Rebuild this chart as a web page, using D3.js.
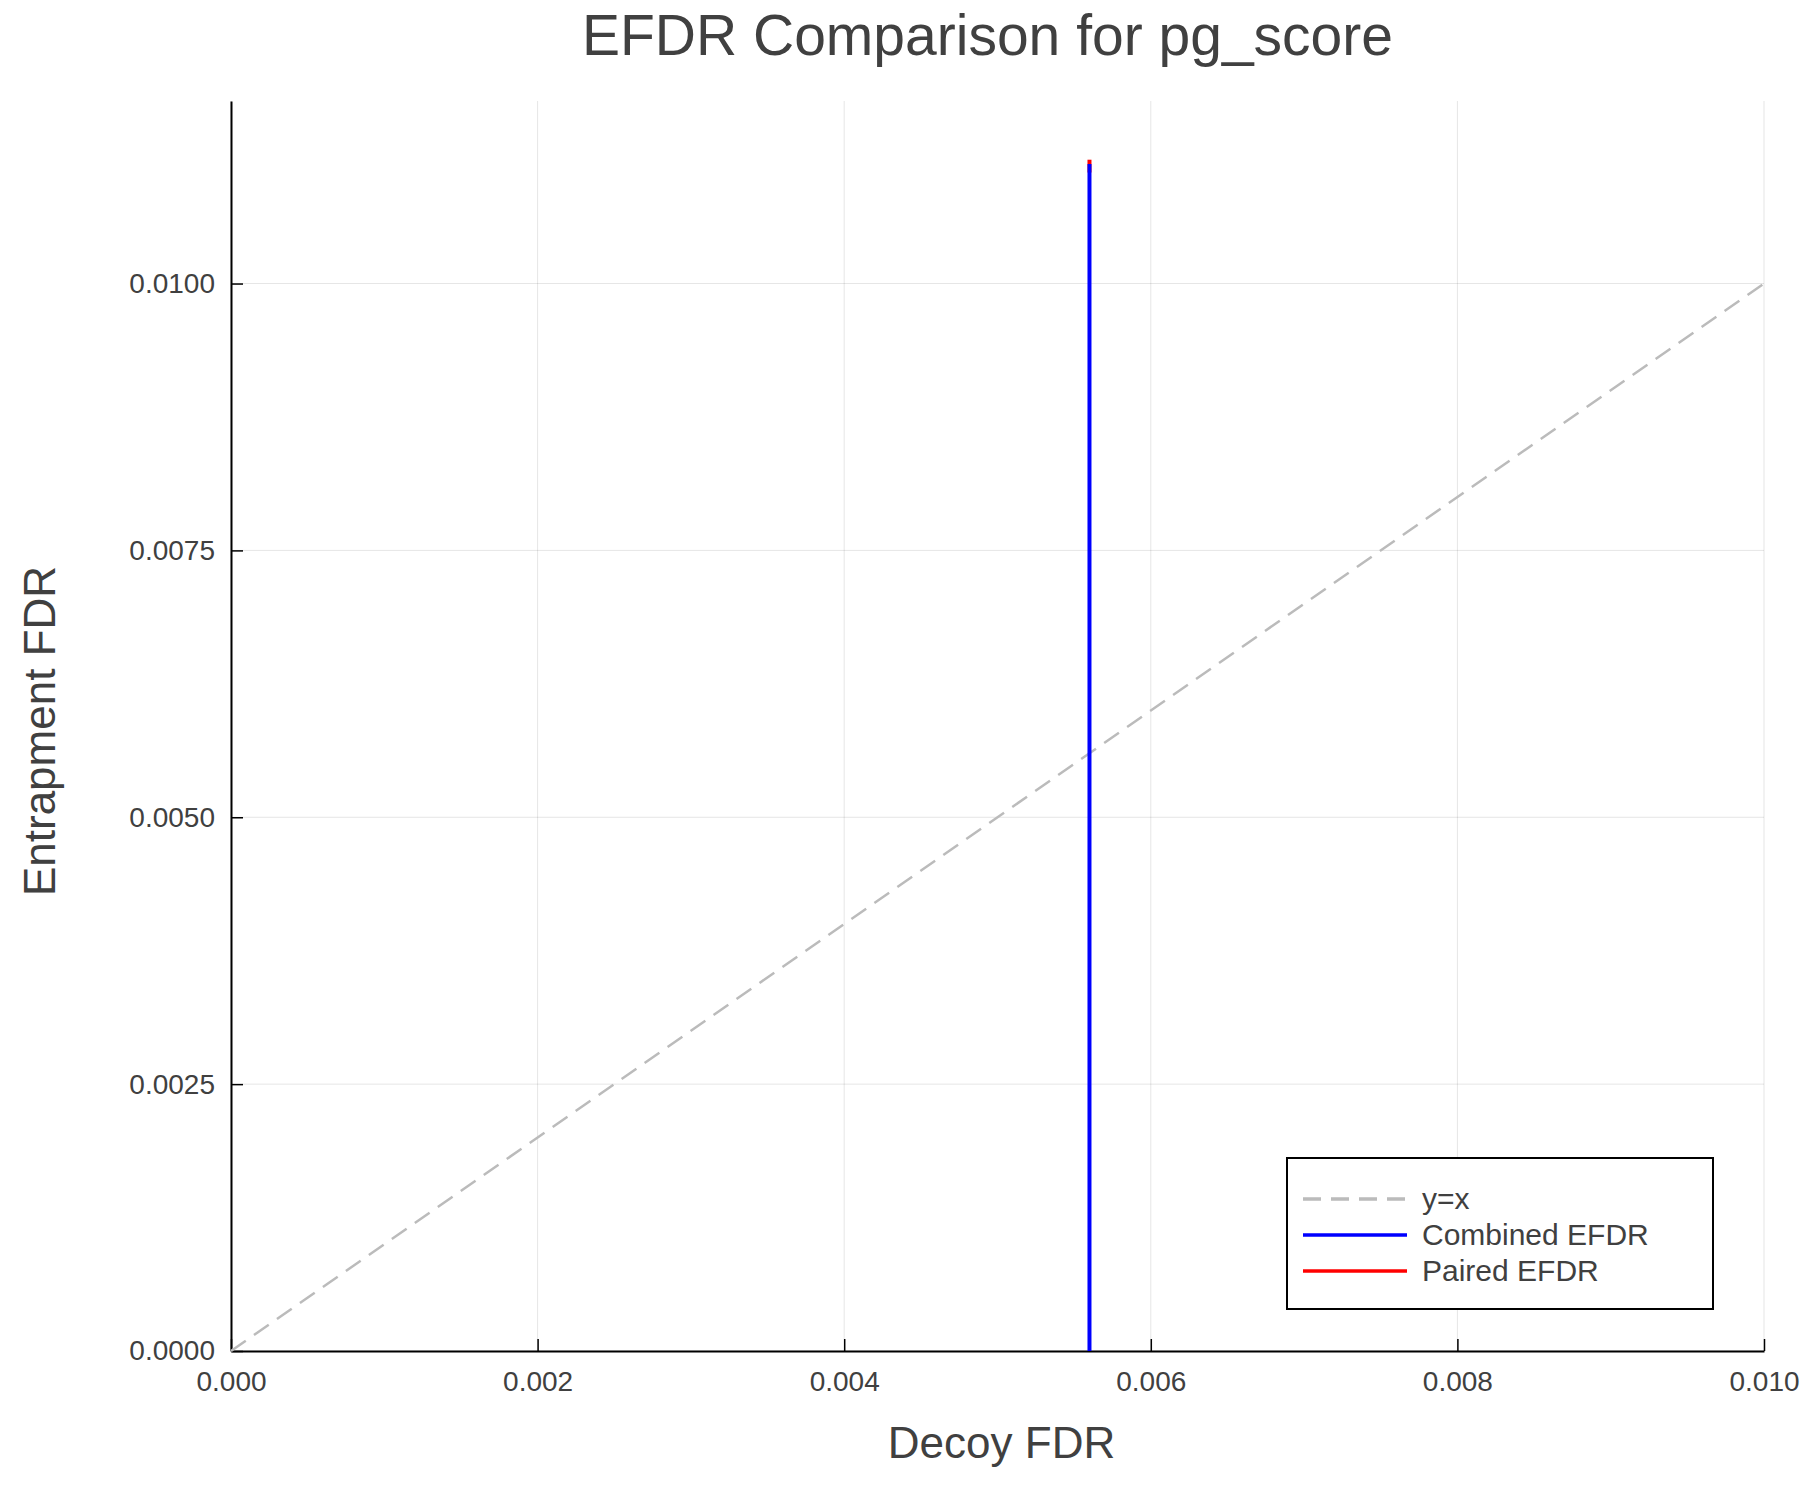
<!DOCTYPE html>
<html><head><meta charset="utf-8">
<script src="https://cdn.jsdelivr.net/npm/d3@7"></script>
<style>body{margin:0;background:#fff}text{font-family:"Liberation Sans",Arial,sans-serif;fill:#404040}</style>
</head><body><svg id="c" width="1800" height="1500"></svg>
<script>
const refX = [0, 0.01];
const refY = [0, 0.01];
const combinedX = [0.0056, 0.0056, 0.0056];
const combinedY = [0, 0.0055, 0.01112];
const pairedX = [0.0056, 0.0056];
const pairedY = [0.01104, 0.01116];
const xTicks = [0, 0.002, 0.004, 0.006, 0.008, 0.010];
const yTicks = [0, 0.0025, 0.005, 0.0075, 0.01];
const legendNames = ["y=x", "Combined EFDR", "Paired EFDR"];

const svg = d3.select("#c");
const L = 231, R = 1764, T = 101, B = 1351;
const x = d3.scaleLinear().domain([0, 0.01]).range([L, R]);
const y = d3.scaleLinear().domain([0, 0.01171]).range([B, T]);

// grid
svg.append("g").selectAll("line").data(xTicks).join("line")
  .attr("x1", d => x(d)).attr("x2", d => x(d)).attr("y1", T).attr("y2", B)
  .attr("stroke", "#000").attr("stroke-opacity", 0.1).attr("stroke-width", 1);
svg.append("g").selectAll("line").data(yTicks).join("line")
  .attr("y1", d => y(d)).attr("y2", d => y(d)).attr("x1", L).attr("x2", R)
  .attr("stroke", "#000").attr("stroke-opacity", 0.1).attr("stroke-width", 1);

// axes
const xa = svg.append("g").attr("transform", `translate(0,${B})`)
  .call(d3.axisBottom(x).tickValues(xTicks).tickFormat(d3.format(".3f")).tickSize(-12).tickPadding(20).tickSizeOuter(0));
const ya = svg.append("g").attr("transform", `translate(${L},0)`)
  .call(d3.axisLeft(y).tickValues(yTicks).tickFormat(d3.format(".4f")).tickSize(-12).tickPadding(16).tickSizeOuter(0));
[xa, ya].forEach(a => {
  a.select(".domain").attr("stroke", "#000").attr("stroke-width", 2);
  a.selectAll(".tick line").attr("stroke", "#000").attr("stroke-width", 1.5);
  a.selectAll(".tick text").attr("font-size", 28).style("fill", "#404040");
});

const line = d3.line().x(d => x(d[0])).y(d => y(d[1]));
svg.append("path").datum(d3.zip(refX, refY)).attr("d", line)
  .attr("fill", "none").attr("stroke", "#bbb").attr("stroke-width", 2.5).attr("stroke-dasharray", "18,10");
svg.append("path").datum(d3.zip(pairedX, pairedY)).attr("d", line)
  .attr("fill", "none").attr("stroke", "#f00").attr("stroke-width", 4);
svg.append("path").datum(d3.zip(combinedX, combinedY)).attr("d", line)
  .attr("fill", "none").attr("stroke", "#00f").attr("stroke-width", 4);

// titles
svg.append("text").attr("x", (L + R) / 2 - 10).attr("y", 55).attr("text-anchor", "middle")
  .attr("font-size", 57).text("EFDR Comparison for pg_score");
svg.append("text").attr("x", (L + R) / 2 + 4).attr("y", 1458).attr("text-anchor", "middle")
  .attr("font-size", 44).text("Decoy FDR");
svg.append("text").attr("transform", `translate(55,${(T + B) / 2 + 5}) rotate(-90)`)
  .attr("text-anchor", "middle").attr("font-size", 44).text("Entrapment FDR");

// legend
const lg = svg.append("g");
lg.append("rect").attr("x", 1287).attr("y", 1158).attr("width", 426).attr("height", 151)
  .attr("fill", "#fff").attr("stroke", "#000").attr("stroke-width", 2);
const styles = [["#bbb", "18,10"], ["#00f", null], ["#f00", null]];
legendNames.forEach((n, i) => {
  const yy = 1199 + i * 36;
  lg.append("line").attr("x1", 1303).attr("x2", 1407).attr("y1", yy).attr("y2", yy)
    .attr("stroke", styles[i][0]).attr("stroke-width", 3.5).attr("stroke-dasharray", styles[i][1]);
  lg.append("text").attr("x", 1422).attr("y", yy + 10).attr("font-size", 30).text(n);
});
</script></body></html>
